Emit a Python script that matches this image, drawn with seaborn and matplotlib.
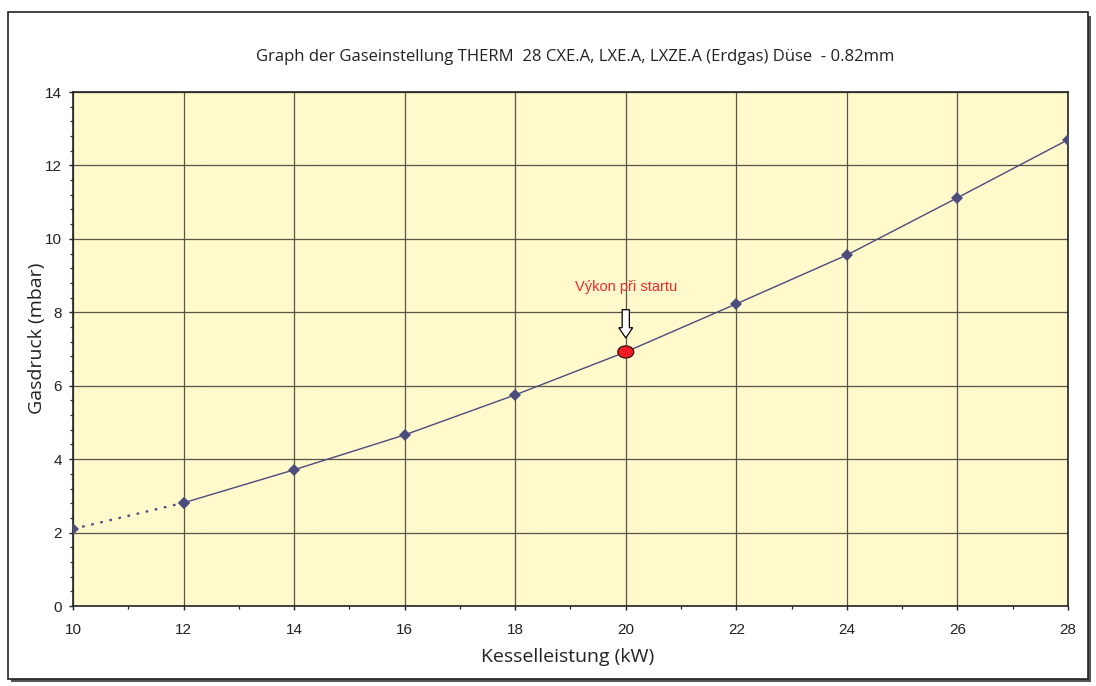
import matplotlib
matplotlib.use("Agg")
import matplotlib.pyplot as plt
from matplotlib.patches import Rectangle, FancyArrow, Ellipse
from matplotlib.ticker import MultipleLocator
import seaborn as sns
import pandas as pd

# Gas pressure vs. boiler output
leistung_kw = [10, 12, 14, 16, 18, 20, 22, 24, 26, 28]
gasdruck_mbar = [2.10, 2.81, 3.71, 4.66, 5.75, 6.92, 8.23, 9.56, 11.12, 12.70]

start_kw = 20
start_mbar = 6.92
start_label = "Výkon při startu"

title = "Graph der Gaseinstellung THERM  28 CXE.A, LXE.A, LXZE.A (Erdgas) Düse  - 0.82mm"
x_label = "Kesselleistung (kW)"
y_label = "Gasdruck (mbar)"
x_ticks = [10, 12, 14, 16, 18, 20, 22, 24, 26, 28]
y_ticks = [0, 2, 4, 6, 8, 10, 12, 14]

df = pd.DataFrame({"kW": leistung_kw, "mbar": gasdruck_mbar})
solid = df[df["kW"] >= 12]
dotted = df[df["kW"] <= 12]

sns.set_theme(style="white")
plt.rcParams["font.family"] = ["Liberation Sans", "DejaVu Sans"]

fig = plt.figure(figsize=(10.96, 6.86), dpi=100)
W, H = 1096, 686
ax = fig.add_axes([73 / W, 1 - 606 / H, (1068 - 73) / W, (606 - 92) / H])

line_col = "#4b4b7c"
grid_col = "#55554a"
ax.set_facecolor("#fff9cc")

sns.lineplot(data=solid, x="kW", y="mbar", ax=ax, color=line_col, lw=1.0,
             marker="D", markersize=6, markeredgewidth=0, markerfacecolor=line_col,
             zorder=4)
sns.lineplot(data=dotted, x="kW", y="mbar", ax=ax, color=line_col, lw=1.6,
             linestyle=(0, (1.2, 3.0)), marker="D", markersize=6,
             markeredgewidth=0, markerfacecolor=line_col, zorder=4)

# start point (slightly elliptical red dot)
ax.add_patch(Ellipse((start_kw, start_mbar), width=0.29, height=0.33,
                     facecolor="#ee1c24", edgecolor="#3a1010", lw=0.9, zorder=6))
ax.text(start_kw, 8.68, start_label, color="#ee2b2b", fontsize=10.5,
        ha="center", va="center")
ax.add_patch(FancyArrow(start_kw, 8.07, 0, -0.77, width=0.13, head_width=0.25,
                        head_length=0.28, length_includes_head=True,
                        facecolor="white", edgecolor="black", lw=0.9, zorder=7))

ax.set_xlim(10, 28)
ax.set_ylim(0, 14)
ax.set_xticks(x_ticks)
ax.set_yticks(y_ticks)
ax.xaxis.set_minor_locator(MultipleLocator(1))
ax.yaxis.set_minor_locator(MultipleLocator(0.4))
ax.grid(True, which="major", color=grid_col, lw=0.9)
ax.set_axisbelow(True)
for s in ax.spines.values():
    s.set_color("#222222")
    s.set_linewidth(1.2)
ax.tick_params(axis="both", which="both", bottom=True, left=True,
               direction="out", color="#222222")
ax.tick_params(axis="both", which="major", length=3, width=1,
               labelsize=11, labelcolor="#222222")
ax.tick_params(axis="both", which="minor", length=2.2, width=0.9)
ax.tick_params(axis="x", which="major", pad=8.9)
ax.tick_params(axis="y", which="major", pad=5)

ax.set_xlabel(x_label, fontsize=14, family=["Open Sans", "DejaVu Sans"],
              color="#222222", va="center")
ax.set_ylabel(y_label, fontsize=14, family=["Open Sans", "DejaVu Sans"],
              color="#222222", va="center")
ax.xaxis.set_label_coords((568 - 73) / 995, -(657 - 606) / 514)
ax.yaxis.set_label_coords((37 - 73) / 995, (606 - 338) / 514)

fig.text(575 / W, 1 - 57 / H, title, fontsize=12.0, family=["Open Sans", "DejaVu Sans"],
         ha="center", va="center", color="#222222")

# page frame with drop shadow
fig.patches.append(Rectangle((11 / W, 1 - 682 / H), 1080 / W, 666 / H,
                             transform=fig.transFigure, facecolor="#555555",
                             edgecolor="none", zorder=-2))
fig.patches.append(Rectangle((8 / W, 1 - 679 / H), 1080 / W, 667 / H,
                             transform=fig.transFigure, facecolor="white",
                             edgecolor="#222222", lw=1.2, zorder=-1))

fig.savefig("out.png", dpi=100)
